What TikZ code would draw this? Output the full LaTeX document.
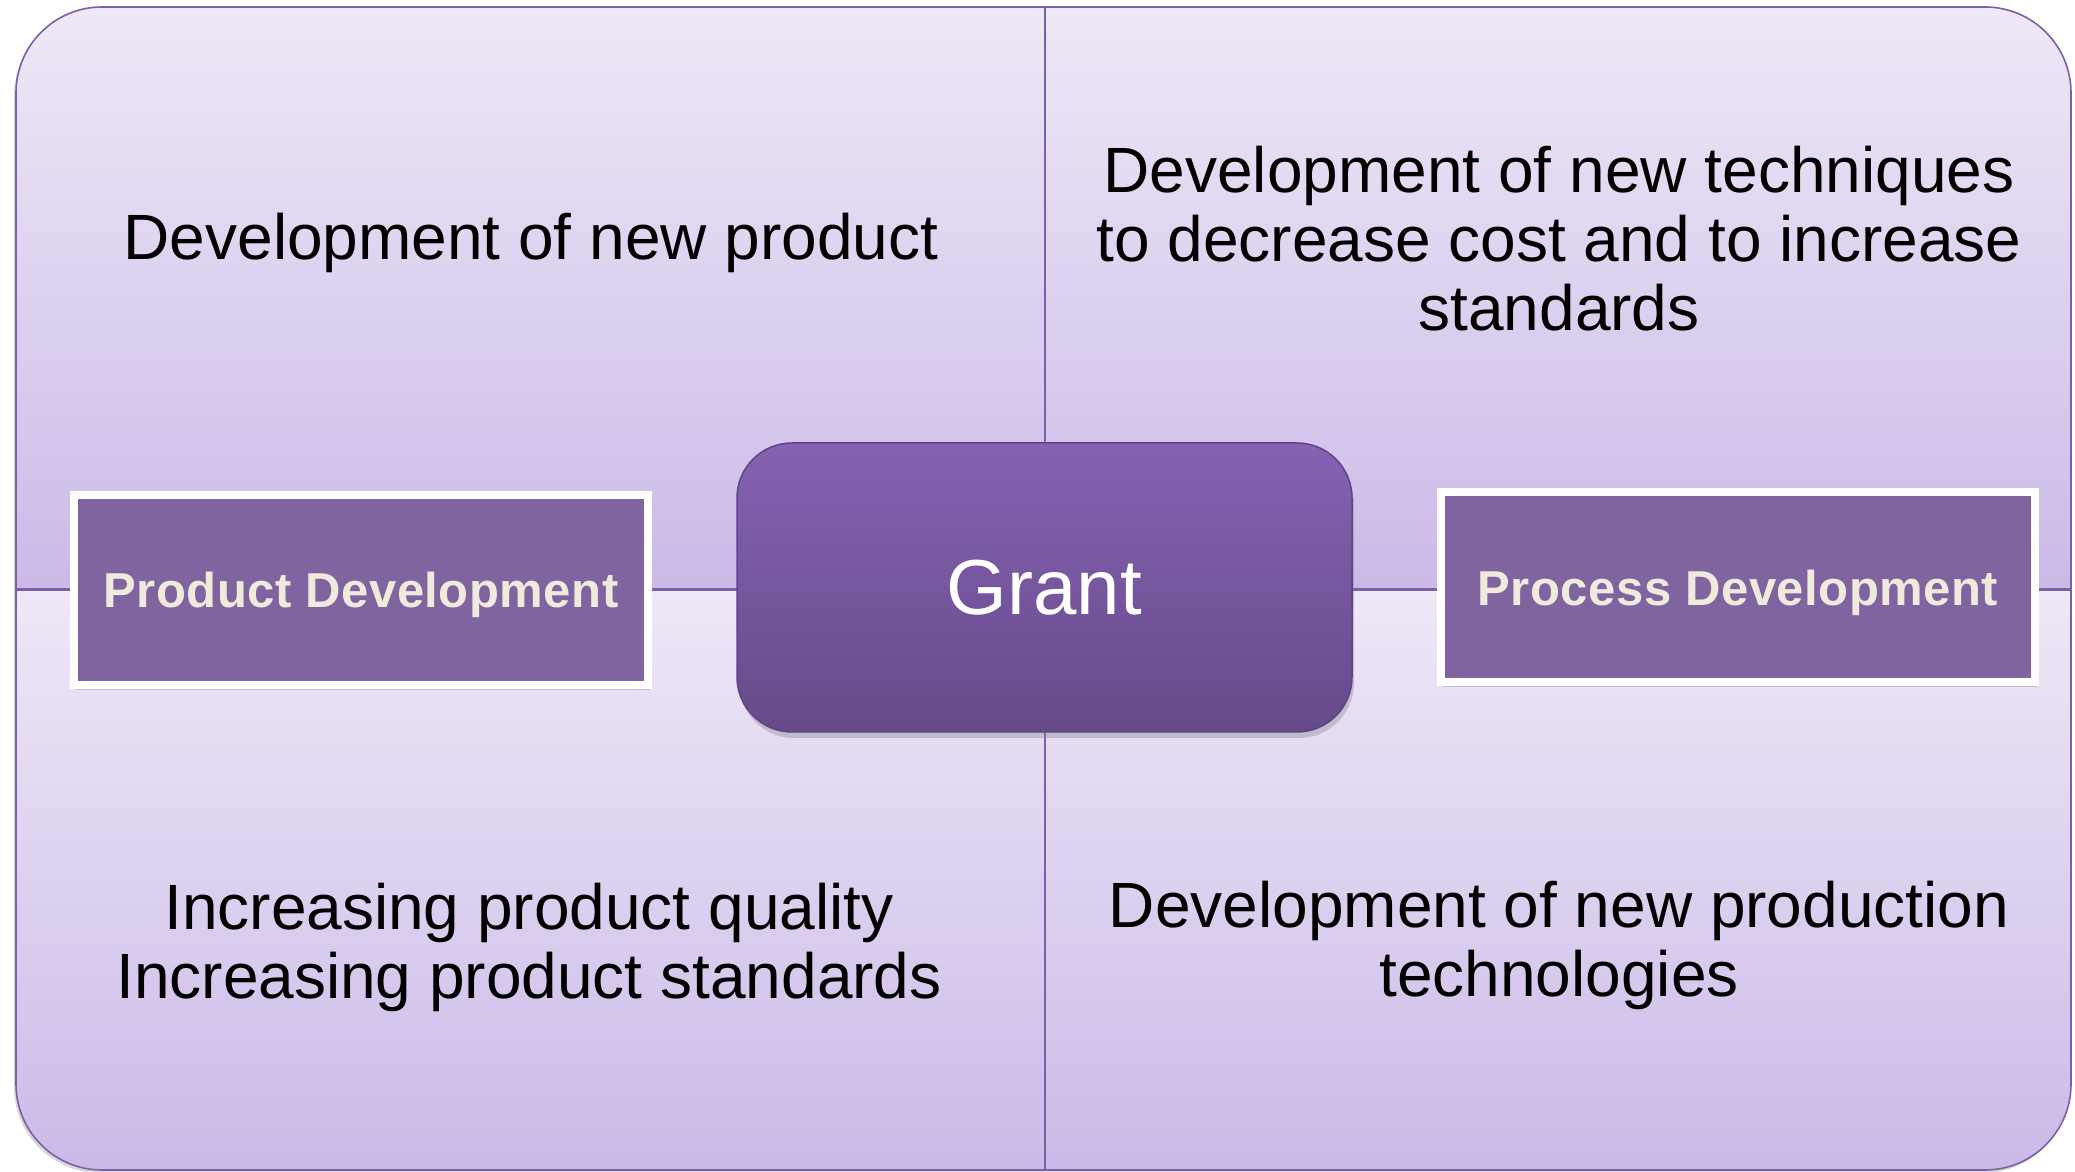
\documentclass[tikz,border=0pt]{standalone}
\usepackage{fontspec}
\setmainfont{Liberation Sans}
\usetikzlibrary{shadows}
\definecolor{qtop}{HTML}{EEE8F7}
\definecolor{qbot}{HTML}{CBBAE8}
\definecolor{qline}{HTML}{7D5FA8}
\definecolor{gtop}{HTML}{8662B2}
\definecolor{gbot}{HTML}{664A8A}
\definecolor{gline}{HTML}{5E4485}
\definecolor{boxfill}{HTML}{7F64A0}
\definecolor{cream}{HTML}{EEEBDD}
\tikzset{
  quad/.style={draw=qline, line width=1.6pt, top color=qtop, bottom color=qbot},
  quadtext/.style={font=\fontsize{64}{69}\selectfont, align=center, text=black},
  grantbox/.style={draw=gline, line width=1.5pt, rounded corners=55pt,
    top color=gtop, bottom color=gbot, minimum width=615pt, minimum height=289pt,
    text=white, font=\fontsize{78}{90}\selectfont,
    drop shadow={opacity=0.35, shadow xshift=2pt, shadow yshift=-6pt}},
  sidebox/.style={draw=white, line width=8pt, fill=boxfill, minimum height=190pt,
    text depth=0pt,
    text=cream, font=\bfseries\fontsize{49}{55}\selectfont\addfontfeatures{LetterSpace=1},
    drop shadow={opacity=0.35, shadow xshift=2pt, shadow yshift=-5pt}},
  outershadow/.style={fill=white, rounded corners=86pt,
    drop shadow={opacity=0.3, shadow xshift=-2pt, shadow yshift=-3pt}}
}
\begin{document}
\begin{tikzpicture}[x=1pt,y=1pt]
\useasboundingbox (0,0) rectangle (2075,1171);
\fill[white] (0,0) rectangle (2075,1171);
% outer shadow
\path[outershadow] (16,1) rectangle (2071,1164);
% quadrants
\path[quad] (1045,582) -- (16,582) -- (16,1078) arc[start angle=180,end angle=90,radius=86] -- (1045,1164) -- cycle;
\path[quad] (1045,582) -- (1045,1164) -- (1985,1164) arc[start angle=90,end angle=0,radius=86] -- (2071,582) -- cycle;
\path[quad] (1045,581) -- (16,581) -- (16,87) arc[start angle=180,end angle=270,radius=86] -- (1045,1) -- cycle;
\path[quad] (1045,581) -- (2071,581) -- (2071,87) arc[start angle=0,end angle=-90,radius=86] -- (1045,1) -- cycle;
% quadrant texts
\node[quadtext] (tl) at (531,928) {Development of new product};
\node[quadtext] (tr) at (1559,932) {Development of new techniques\\to decrease cost and to increase\\standards};
\node[quadtext] (bl) at (529,224) {Increasing product quality\\Increasing product standards};
\node[quadtext] (br) at (1559,226) {Development of new production\\technologies};
% boxes
\node[sidebox, minimum width=574pt] (prod) at (361,581) {Product Development};
\node[sidebox, minimum width=594pt] (proc) at (1738,583.5) {Process Development};
\node[grantbox] (grant) at (1044.5,583.5) {Grant};
\end{tikzpicture}
\end{document}
